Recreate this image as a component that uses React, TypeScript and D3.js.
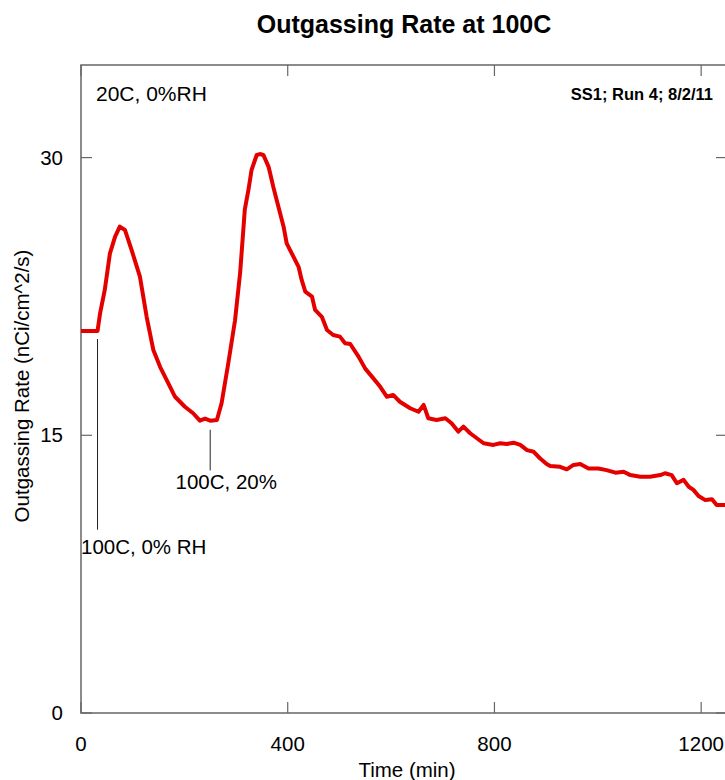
import React from "react";
import * as d3 from "d3";

const timeMin: number[] = [
  0, 32, 37, 46, 56, 66, 75, 85, 98, 114, 127, 140, 153, 169, 182, 201, 217, 230, 240, 250, 263,
  272, 285, 298, 308, 317, 324, 330, 340, 346, 353, 363, 372, 382, 392, 398, 411, 421, 427, 434,
  447, 453, 466, 476, 488, 501, 511, 521, 537, 550, 565, 579, 592, 604, 617, 637, 653, 663, 672,
  688, 705, 717, 730, 740, 753, 766, 779, 798, 811, 824, 837, 850, 863, 876, 888, 901, 908, 927,
  940, 953, 966, 982, 1001, 1017, 1034, 1050, 1063, 1082, 1101, 1121, 1130, 1143, 1153, 1166, 1176,
  1185, 1195, 1208, 1221, 1230, 1250,
];
const rate: number[] = [
  20.63, 20.63, 21.6, 22.85, 24.83, 25.73, 26.27, 26.09, 25.0, 23.57, 21.4, 19.6, 18.7, 17.8, 17.08,
  16.54, 16.19, 15.79, 15.9, 15.79, 15.83, 16.73, 18.89, 21.2, 23.8, 27.2, 28.25, 29.33, 30.14,
  30.19, 30.14, 29.5, 28.43, 27.35, 26.27, 25.37, 24.65, 24.1, 23.39, 22.76, 22.49, 21.77, 21.4,
  20.69, 20.42, 20.33, 19.97, 19.93, 19.25, 18.6, 18.1, 17.62, 17.08, 17.18, 16.81, 16.46, 16.27,
  16.64, 15.92, 15.83, 15.92, 15.65, 15.2, 15.47, 15.11, 14.84, 14.57, 14.48, 14.57, 14.53, 14.6,
  14.48, 14.2, 14.11, 13.76, 13.45, 13.34, 13.3, 13.16, 13.4, 13.45, 13.21, 13.21, 13.12, 12.98,
  13.03, 12.85, 12.76, 12.76, 12.85, 12.95, 12.85, 12.41, 12.59, 12.22, 12.05, 11.72, 11.5, 11.54,
  11.23, 11.23,
];
const xTicks: number[] = [0, 400, 800, 1200];
const yTicks: number[] = [0, 15, 30];

const annotations = [
  { label: "100C, 0% RH", t: 32, from: 20.2, to: 9.9, labelT: 0, labelV: 8.6 },
  { label: "100C, 20%", t: 250, from: 15.3, to: 13.1, labelT: 183, labelV: 12.1 },
];

const W = 725;
const H = 780;
const left = 81;
const right = 727;
const top = 65;
const bottom = 713;
const FONT = "Liberation Sans, Arial, sans-serif";
const AXIS = "#666";

export default function App() {
  const x = d3.scaleLinear().domain([0, 1250]).range([left, right]);
  const y = d3.scaleLinear().domain([0, 35]).range([bottom, top]);
  const pts: [number, number][] = timeMin.map((t, i) => [t, rate[i]]);
  const line = d3
    .line<[number, number]>()
    .x((d) => x(d[0]))
    .y((d) => y(d[1]))
    .curve(d3.curveLinear);
  const tickLen = 11;

  return (
    <svg
      width={W}
      height={H}
      style={{ position: "absolute", left: 0, top: 0, background: "#fff" }}
      fontFamily={FONT}
    >
      <rect x={0} y={0} width={W} height={H} fill="#fff" />
      <text x={404} y={33} textAnchor="middle" fontSize={25} fontWeight="bold" fill="#000">
        Outgassing Rate at 100C
      </text>

      {/* frame */}
      <rect x={left} y={top} width={right - left} height={bottom - top} fill="none" stroke={AXIS} strokeWidth={1.5} />

      {/* x ticks */}
      {xTicks.map((t) => (
        <g key={"x" + t}>
          <line x1={x(t)} x2={x(t)} y1={bottom} y2={bottom - tickLen} stroke={AXIS} strokeWidth={1.2} />
          <line x1={x(t)} x2={x(t)} y1={top} y2={top + tickLen} stroke={AXIS} strokeWidth={1.2} />
          <text x={x(t)} y={bottom + 38} textAnchor="middle" fontSize={20.5} fill="#000">
            {t}
          </text>
        </g>
      ))}

      {/* y ticks */}
      {yTicks.map((v) => (
        <g key={"y" + v}>
          <line x1={left} x2={left + tickLen} y1={y(v)} y2={y(v)} stroke={AXIS} strokeWidth={1.2} />
          <line x1={right} x2={right - tickLen} y1={y(v)} y2={y(v)} stroke={AXIS} strokeWidth={1.2} />
          <text x={left - 18} y={y(v) + 7} textAnchor="end" fontSize={20.5} fill="#000">
            {v}
          </text>
        </g>
      ))}

      <text x={407} y={777} textAnchor="middle" fontSize={20.5} fill="#000">
        Time (min)
      </text>
      <text
        transform={`translate(29, 386) rotate(-90)`}
        textAnchor="middle"
        fontSize={20.5}
        fill="#000"
      >
        Outgassing Rate (nCi/cm^2/s)
      </text>

      <text x={96} y={101} fontSize={21} fill="#000">
        20C, 0%RH
      </text>
      <text x={713} y={100} textAnchor="end" fontSize={16.5} fontWeight="bold" fill="#000">
        SS1; Run 4; 8/2/11
      </text>

      {annotations.map((a) => (
        <g key={a.label}>
          <line x1={x(a.t)} x2={x(a.t)} y1={y(a.from)} y2={y(a.to)} stroke="#222" strokeWidth={1} />
          <text x={x(a.labelT)} y={y(a.labelV)} fontSize={20.5} fill="#000">
            {a.label}
          </text>
        </g>
      ))}

      <path d={line(pts) || ""} fill="none" stroke="#e50000" strokeWidth={4} strokeLinejoin="round" />
    </svg>
  );
}
